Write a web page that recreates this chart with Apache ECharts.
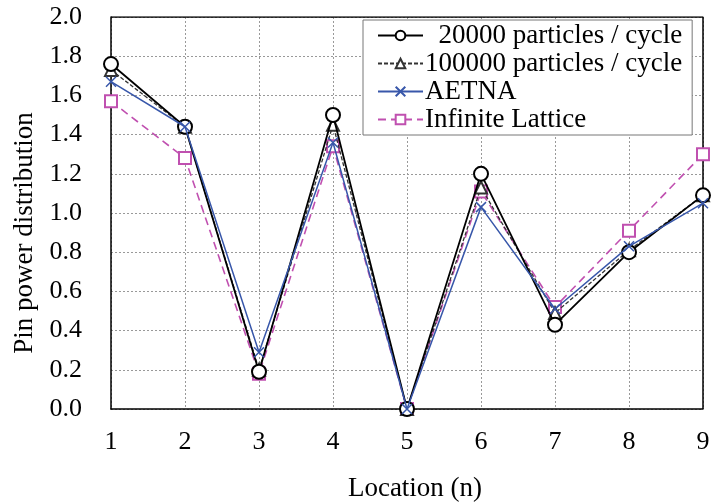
<!DOCTYPE html>
<html>
<head>
<meta charset="utf-8">
<script src="https://cdn.jsdelivr.net/npm/echarts@6/dist/echarts.min.js"></script>
<style>
  html, body { margin: 0; padding: 0; background: #fff; }
  #main { width: 717px; height: 503px; }
</style>
</head>
<body>
<div id="main"></div>
<script>
// values
const locations = [1, 2, 3, 4, 5, 6, 7, 8, 9];
const p20000 = [1.76, 1.44, 0.19, 1.50, 0.0, 1.20, 0.43, 0.80, 1.09];
const p100000 = [1.73, 1.44, 0.20, 1.45, 0.0, 1.13, 0.49, 0.81, 1.09];
const aetna = [1.67, 1.44, 0.29, 1.36, 0.0, 1.03, 0.51, 0.83, 1.05];
const infinite = [1.57, 1.28, 0.18, 1.34, 0.0, 1.11, 0.52, 0.91, 1.30];
const yTicks = ['0.0', '0.2', '0.4', '0.6', '0.8', '1.0', '1.2', '1.4', '1.6', '1.8', '2.0'];

const font = 'Liberation Serif';
const pair = arr => locations.map((x, i) => [x, arr[i]]);
const xMark = 'path://M0,0L10,10M10,0L0,10';

const chart = echarts.init(document.getElementById('main'));

chart.setOption({
  animation: false,
  textStyle: { fontFamily: font },
  grid: { left: 111, right: 14, top: 17, bottom: 94, outerBoundsMode: 'none' },
  legend: {
    orient: 'vertical',
    left: 363,
    top: 20,
    width: 328,
    itemWidth: 45,
    itemHeight: 12,
    itemGap: 1,
    padding: [2, 10, 2, 14],
    backgroundColor: '#fff',
    borderColor: '#777',
    borderWidth: 1,
    textStyle: { fontFamily: font, fontSize: 27, lineHeight: 27, color: '#000', padding: [0, 0, 0, -3] },
    data: ['  20000 particles / cycle', '100000 particles / cycle', 'AETNA', 'Infinite Lattice']
  },
  xAxis: {
    type: 'value',
    min: 1,
    max: 9,
    interval: 1,
    name: 'Location (n)',
    nameLocation: 'middle',
    nameGap: 66,
    nameTextStyle: { fontFamily: font, fontSize: 27, color: '#000', padding: [0, 0, 0, 16] },
    axisLine: { onZero: false, lineStyle: { color: '#000', width: 1.5 } },
    axisTick: { show: false },
    axisLabel: { fontFamily: font, fontSize: 26, color: '#000', margin: 20 },
    splitLine: { show: true, lineStyle: { color: '#999', type: [2, 2] } }
  },
  yAxis: {
    type: 'value',
    min: 0,
    max: 2,
    interval: 0.2,
    name: 'Pin power distribution',
    nameLocation: 'middle',
    nameGap: 72,
    nameTextStyle: { fontFamily: font, fontSize: 27, color: '#000', padding: [0, 40, 0, 0] },
    axisLine: { show: true, lineStyle: { color: '#000', width: 1.5 } },
    axisTick: { show: false },
    axisLabel: {
      fontFamily: font, fontSize: 26, color: '#000', margin: 29,
      formatter: (v) => yTicks[Math.round(v / 0.2)]
    },
    splitLine: { show: true, lineStyle: { color: '#999', type: [2, 2] } }
  },
  series: [
    {
      name: '  20000 particles / cycle',
      type: 'line',
      data: pair(p20000),
      symbol: 'emptyCircle',
      symbolSize: 14,
      lineStyle: { color: '#000', width: 1.8 },
      itemStyle: { color: '#000', borderWidth: 1.3 },
      z: 4
    },
    {
      name: '100000 particles / cycle',
      type: 'line',
      data: pair(p100000),
      symbol: 'emptyTriangle',
      symbolSize: 12,
      lineStyle: { color: '#333', width: 1.3, type: [4, 2] },
      itemStyle: { color: '#333', borderWidth: 1 },
      z: 3
    },
    {
      name: 'AETNA',
      type: 'line',
      data: pair(aetna),
      symbol: xMark,
      symbolSize: 10,
      lineStyle: { color: '#3857aa', width: 1.5 },
      itemStyle: { color: '#3857aa', borderColor: '#3857aa', borderWidth: 1.5 },
      z: 5
    },
    {
      name: 'Infinite Lattice',
      type: 'line',
      data: pair(infinite),
      symbol: 'emptyRect',
      symbolSize: 12,
      lineStyle: { color: '#c050b0', width: 1.6, type: [8, 5] },
      itemStyle: { color: '#c050b0', borderWidth: 1.3 },
      z: 2
    },
    {
      // top and right frame of the plot
      type: 'line',
      data: [[1, 2], [9, 2], [9, 0]],
      symbol: 'none',
      silent: true,
      lineStyle: { color: '#000', width: 1.5 },
      z: 1
    }
  ]
});
</script>
</body>
</html>
